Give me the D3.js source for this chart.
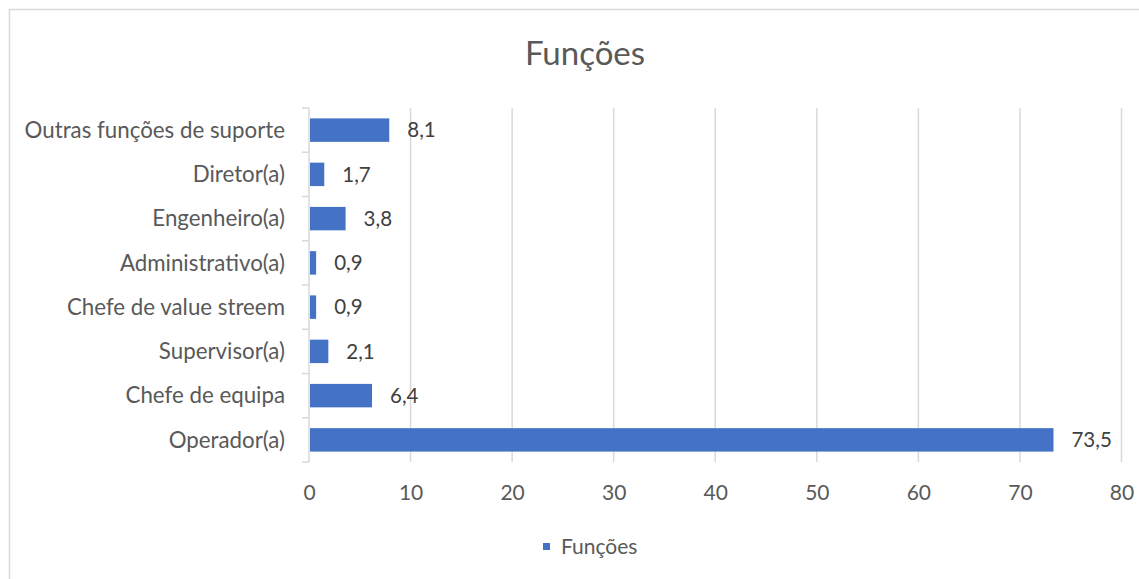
<!DOCTYPE html>
<html>
<head>
<meta charset="utf-8">
<script src="https://cdn.jsdelivr.net/npm/d3@7"></script>
<style>
  html, body { margin: 0; padding: 0; background: #fff; }
  svg { display: block; font-family: Lato, "Open Sans", sans-serif; }
</style>
</head>
<body>
<svg id="chart" width="1139" height="579"></svg>
<script>
// Categories listed top to bottom as shown on the axis
const categories = [
  "Outras funções de suporte",
  "Diretor(a)",
  "Engenheiro(a)",
  "Administrativo(a)",
  "Chefe de value streem",
  "Supervisor(a)",
  "Chefe de equipa",
  "Operador(a)"
];
const values = [8.1, 1.7, 3.8, 0.9, 0.9, 2.1, 6.4, 73.5];
const xTicks = [0, 10, 20, 30, 40, 50, 60, 70, 80];
const seriesName = "Funções";
const chartTitle = "Funções";

const svg = d3.select("#chart");
const W = 1139, H = 579;
const textColor = "#595959";
const barColor = "#4472C4";
const gridColor = "#d9d9d9";

// Outer chart frame
svg.append("rect")
  .attr("x", 9.5).attr("y", 9.5)
  .attr("width", W + 20).attr("height", H + 20)
  .attr("fill", "#fff").attr("stroke", "#d9d9d9").attr("stroke-width", 1.5);

const plot = { left: 309, right: 1121.5, top: 108, bottom: 462 };

const x = d3.scaleLinear().domain([0, 80]).range([plot.left, plot.right]);
const y = d3.scaleBand().domain(categories).range([plot.top, plot.bottom]).paddingInner(0.47).paddingOuter(0.235);
const band = d3.scaleBand().domain(categories).range([plot.top, plot.bottom]);

// Title
svg.append("text")
  .attr("x", 585).attr("y", 65)
  .attr("text-anchor", "middle")
  .attr("fill", textColor)
  .attr("font-size", 33)
  .text(chartTitle);

// Vertical gridlines
svg.append("g").selectAll("line")
  .data(xTicks.filter(d => d > 0))
  .join("line")
  .attr("x1", d => x(d)).attr("x2", d => x(d))
  .attr("y1", plot.top).attr("y2", plot.bottom)
  .attr("stroke", gridColor).attr("stroke-width", 1.5);

// Bottom axis labels
const xAxis = d3.axisBottom(x).tickValues(xTicks).tickSize(0).tickPadding(0).tickFormat(d3.format("d"));
const gx = svg.append("g").attr("transform", `translate(0,${plot.bottom})`).call(xAxis);
gx.select(".domain").remove();
gx.selectAll("text")
  .attr("y", 38).attr("dy", null)
  .attr("fill", textColor)
  .attr("font-size", 21)
  .attr("font-family", "Lato, 'Open Sans', sans-serif");

// Category axis with ticks at band boundaries
const gy = svg.append("g");
gy.append("line")
  .attr("x1", plot.left).attr("x2", plot.left)
  .attr("y1", plot.top).attr("y2", plot.bottom)
  .attr("stroke", gridColor).attr("stroke-width", 1.5);
const boundaries = categories.map(c => band(c)).concat([plot.bottom]);
gy.selectAll("line.tick")
  .data(boundaries)
  .join("line")
  .attr("class", "tick")
  .attr("x1", plot.left - 7).attr("x2", plot.left)
  .attr("y1", d => d).attr("y2", d => d)
  .attr("stroke", gridColor).attr("stroke-width", 1.5);
gy.selectAll("text")
  .data(categories)
  .join("text")
  .attr("x", 285)
  .attr("y", d => band(d) + band.bandwidth() / 2)
  .attr("dy", "0.35em")
  .attr("text-anchor", "end")
  .attr("fill", textColor)
  .attr("font-size", 22.3)
  .text(d => d);

// Bars (slightly inset from the axis line and value end)
svg.append("g").selectAll("rect")
  .data(categories)
  .join("rect")
  .attr("x", x(0) + 1)
  .attr("y", d => y(d))
  .attr("width", (d, i) => Math.max(0, x(values[i]) - x(0) - 3))
  .attr("height", y.bandwidth())
  .attr("fill", barColor);

// Value labels
svg.append("g").selectAll("text")
  .data(categories)
  .join("text")
  .attr("x", (d, i) => x(values[i]) + 16)
  .attr("y", d => y(d) + y.bandwidth() / 2)
  .attr("dy", "0.35em")
  .attr("fill", "#404040")
  .attr("font-size", 20.5)
  .text((d, i) => String(values[i]).replace(".", ","));

// Legend
const lg = svg.append("g");
lg.append("rect")
  .attr("x", 543).attr("y", 543).attr("width", 7).attr("height", 7)
  .attr("fill", barColor);
lg.append("text")
  .attr("x", 561).attr("y", 546.5)
  .attr("dy", "0.35em")
  .attr("fill", textColor)
  .attr("font-size", 21)
  .text(seriesName);
</script>
</body>
</html>
